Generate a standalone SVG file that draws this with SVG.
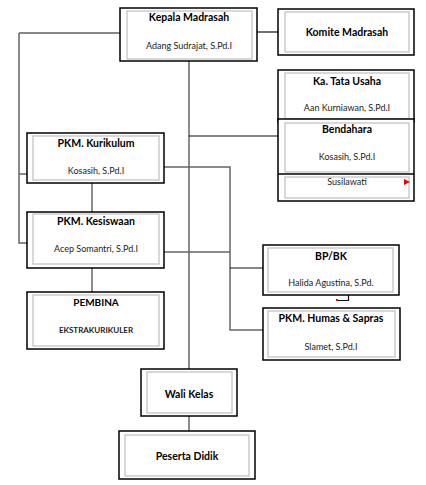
<svg xmlns="http://www.w3.org/2000/svg" width="426" height="485" viewBox="0 0 426 485">
<style>
.o{fill:#fff;stroke:#000;stroke-width:1.5}
.i{fill:none;stroke:#c4c4c4;stroke-width:1.3}
.t{font-family:Lato,"Liberation Sans",sans-serif;font-weight:bold;font-size:10.5px;fill:#000;text-anchor:middle}
.s{font-family:Lato,"Liberation Sans",sans-serif;font-size:9px;fill:#222;text-anchor:middle}
.k{fill:none;stroke:#111;stroke-width:1.2}
.g{fill:none;stroke:#666;stroke-width:1.5}
</style>
<rect width="426" height="485" fill="#fff"/>
<g id="connectors">
<polyline class="k" points="257,32 278,32"/>
<polyline class="k" points="120,33 19,33"/>
<polyline class="g" points="19,33 19,243 27,243"/>
<polyline class="g" points="19,174 27,174"/>
<polyline class="g" points="189,61 189,369"/>
<polyline class="k" points="189,136 278,136"/>
<polyline class="g" points="164,167 230,167 230,330 263,330"/>
<polyline class="k" points="230,268 263,268"/>
<polyline class="g" points="164,252 230,252"/>
<polyline class="g" points="92,183 92,212"/>
<polyline class="g" points="92,268 92,292"/>
<polyline class="g" points="189,416 189,431"/>
<polyline class="k" points="337,300.5 348.5,300.5 348.5,295"/>
<rect x="336" y="299" width="2" height="2" fill="#e00"/>
</g>
<g id="kepala">
<rect class="o" x="120" y="8" width="137" height="53"/>
<rect class="i" x="127" y="11" width="125" height="48"/>
<text class="t" x="189" y="21">Kepala Madrasah</text>
<text class="s" x="189" y="49">Adang Sudrajat, S.Pd.I</text>
</g>
<g id="komite">
<rect class="o" x="278" y="9" width="136" height="46"/>
<rect class="i" x="285" y="12" width="124" height="40"/>
<text class="t" x="347" y="36">Komite Madrasah</text>
</g>
<g id="tatausaha">
<rect class="o" x="278" y="70" width="136" height="52"/>
<rect class="i" x="285" y="73" width="124" height="46"/>
<text class="t" x="347" y="85">Ka. Tata Usaha</text>
<text class="s" x="347" y="111">Aan Kurniawan, S.Pd.I</text>
</g>
<g id="bendahara">
<rect class="o" x="278" y="119" width="136" height="82"/>
<line x1="278" y1="174" x2="414" y2="174" stroke="#000" stroke-width="1.5"/>
<rect class="i" x="285" y="123" width="124" height="49"/>
<rect class="i" x="285" y="177" width="124" height="21"/>
<text class="t" x="347" y="133">Bendahara</text>
<text class="s" x="347" y="160">Kosasih, S.Pd.I</text>
<text class="s" x="347" y="185">Susilawati</text>
<polygon points="404,179 410,182 404,185" fill="#e00"/>
</g>
<g id="kurikulum">
<rect class="o" x="27" y="133" width="137" height="50"/>
<rect class="i" x="33" y="136" width="126" height="44"/>
<text class="t" x="96" y="147">PKM. Kurikulum</text>
<text class="s" x="96" y="174">Kosasih, S.Pd.I</text>
</g>
<g id="kesiswaan">
<rect class="o" x="27" y="212" width="137" height="56"/>
<rect class="i" x="33" y="214" width="126" height="50"/>
<text class="t" x="96" y="225">PKM. Kesiswaan</text>
<text class="s" x="96" y="252">Acep Somantri, S.Pd.I</text>
</g>
<g id="pembina">
<rect class="o" x="27" y="292" width="137" height="57"/>
<rect class="i" x="33" y="295" width="126" height="51"/>
<text class="t" x="96" y="306" style="font-size:10px">PEMBINA</text>
<text class="s" x="96" y="333" style="font-weight:bold;font-size:8px">EKSTRAKURIKULER</text>
</g>
<g id="bpbk">
<rect class="o" x="263" y="245" width="136" height="50"/>
<rect class="i" x="268" y="248" width="125" height="44"/>
<text class="t" x="331" y="260">BP/BK</text>
<text class="s" x="331" y="286">Halida Agustina, S.Pd.</text>
</g>
<g id="humas">
<rect class="o" x="263" y="308" width="137" height="52"/>
<rect class="i" x="268" y="311" width="127" height="46"/>
<text class="t" x="331" y="322">PKM. Humas &amp; Sapras</text>
<text class="s" x="331" y="350">Slamet, S.Pd.I</text>
</g>
<g id="walikelas">
<rect class="o" x="141" y="369" width="96" height="47"/>
<rect class="i" x="147" y="372" width="85" height="41"/>
<text class="t" x="189" y="398">Wali Kelas</text>
</g>
<g id="peserta">
<rect class="o" x="119" y="431" width="136" height="48"/>
<rect class="i" x="125" y="435" width="124" height="41"/>
<text class="t" x="187" y="460">Peserta Didik</text>
</g>
</svg>
